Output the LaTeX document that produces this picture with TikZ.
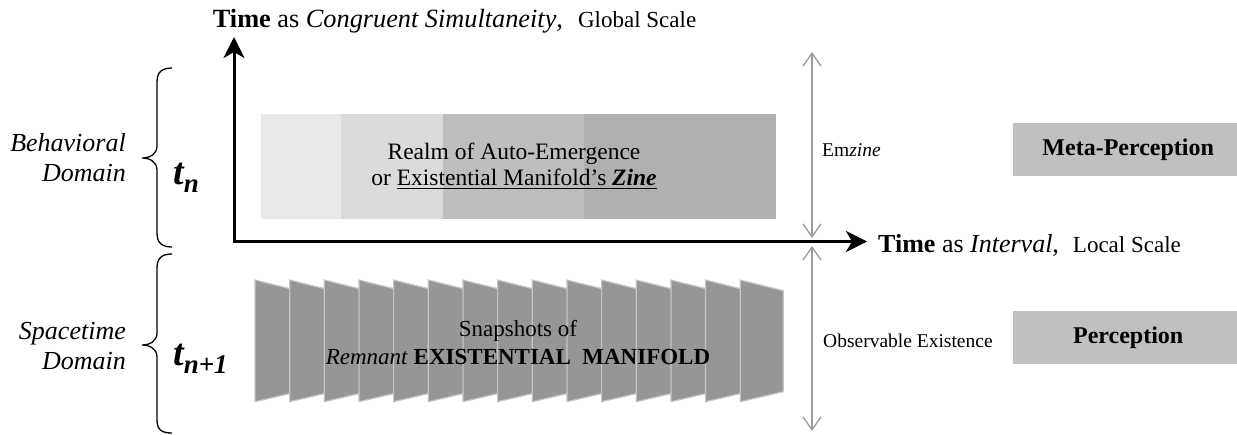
\documentclass[tikz,border=0pt]{standalone}
\usepackage{fontspec}
\setmainfont{Liberation Serif}
\usetikzlibrary{arrows.meta}

% font size helper: size and baseline skip in pt
\newcommand\setsz[2]{\fontsize{#1}{#2}\selectfont}
% thick underline
\newcommand\ulx[1]{\setbox0\hbox{#1}\rlap{\rule[-3.2pt]{\wd0}{1.3pt}}\box0}

\definecolor{shadeA}{HTML}{E9E9E9}
\definecolor{shadeB}{HTML}{DBDBDB}
\definecolor{shadeC}{HTML}{BEBEBE}
\definecolor{shadeD}{HTML}{B0B0B0}
\definecolor{boxgray}{HTML}{C0C0C0}
\definecolor{panelfill}{HTML}{969696}
\definecolor{panelline}{HTML}{C6C6C6}
\definecolor{spangray}{HTML}{9C9C9C}

\tikzset{
  axis/.style={line width=3pt, line join=miter,
    {Stealth[length=21pt,width=21pt,inset=6pt]}-{Stealth[length=21pt,width=21pt,inset=6pt]}},
  span/.style={spangray, line width=1.3pt,
    {Straight Barb[length=13pt,width=18pt]}-{Straight Barb[length=13pt,width=18pt]}},
  panel/.style={fill=panelfill, draw=panelline, line width=1.2pt, line join=miter},
  brace/.style={line width=1.3pt},
  sidelabel/.style={align=right, anchor=east, inner sep=0pt, font=\itshape\setsz{26}{30}},
  label/.style={anchor=base west, inner sep=0pt},
  tagbox/.style={fill=boxgray, anchor=north west, minimum width=224pt, minimum height=53pt,
    inner sep=0pt, font=\bfseries\setsz{24}{26}},
}

\begin{document}
\begin{tikzpicture}[x=1pt,y=-1pt]
\useasboundingbox (0,0) rectangle (1237,434);

% ---- Behavioral domain: graded realm of auto-emergence
\fill[shadeA] (261,114) rectangle (341,219);
\fill[shadeB] (341,114) rectangle (443,219);
\fill[shadeC] (443,114) rectangle (584,219);
\fill[shadeD] (584,114) rectangle (776,219);
\node[align=center, font=\setsz{23.5}{26}] (realm) at (514,166)
  {Realm of Auto-Emergence\\ or \ulx{Existential Manifold’s \textbf{\textit{Zine}}}};

% ---- Spacetime domain: row of overlapping snapshot panels
\foreach \i in {0,...,14}{
  \pgfmathsetmacro\xl{255+34.66*\i}
  \draw[panel] (\xl,280) -- ++(43,10.7) -- ++(0,101) -- ++(-43,10) -- cycle;
}
\node[align=center, font=\setsz{23}{28}] (snap) at (518,343)
  {Snapshots of\\\textit{Remnant} \textbf{EXISTENTIAL\ \ MANIFOLD}};

% ---- time axes
\coordinate (O) at (234,241.5);
\coordinate (ytip) at (234,37);
\coordinate (xtip) at (867,241.5);
\draw[axis] (ytip) -- (O) -- (xtip);

\node[label] (ylab) at (212.7,27)
  {\setsz{26.3}{30}\textbf{Time} as \textit{Congruent Simultaneity},\hspace{15pt}\setsz{23}{26}Global Scale};
\node[label] (xlab) at (878,252)
  {\setsz{26}{30}\textbf{Time} as \textit{Interval},\hspace{14pt}\setsz{23}{26}Local Scale};

% ---- spans at the right
\coordinate (e1) at (812,52);
\coordinate (e2) at (812,238);
\coordinate (o1) at (812,246);
\coordinate (o2) at (812,431);
\draw[span] (e1) -- (e2);
\draw[span] (o1) -- (o2);
\node[label, font=\setsz{19.5}{22}] (emzine) at (822,156) {Em\textit{zine}};
\node[label, font=\setsz{19.5}{22}] (obs) at (823,347) {Observable Existence};

\node[tagbox] (meta) at (1013,123) {\hspace*{6pt}Meta-Perception};
\node[tagbox] (perc) at (1013,311) {\hspace*{6pt}Perception};

% ---- domain braces and labels
\draw[brace] (172,68) .. controls (162,68) and (157,72) .. (157,82) -- (157,146)
  .. controls (157,154) and (150,158) .. (142,158)
  .. controls (150,158) and (157,162) .. (157,170) -- (157,233)
  .. controls (157,243) and (162,247) .. (172,247);
\draw[brace] (172,254) .. controls (162,254) and (157,258) .. (157,268) -- (157,333)
  .. controls (157,341) and (150,345) .. (142,345)
  .. controls (150,345) and (157,349) .. (157,357) -- (157,420)
  .. controls (157,430) and (162,433) .. (172,433);

\node[sidelabel] (behav) at (126,158) {Behavioral\\Domain};
\node[sidelabel] (space) at (126,346) {Spacetime\\Domain};

\node[label] (tn) at (173,184)
  {\setsz{38}{40}\bfseries\itshape t\raisebox{-8pt}{\setsz{27}{28}n}};
\node[label] (tn1) at (173,365)
  {\setsz{38}{40}\bfseries\itshape t\raisebox{-8pt}{\setsz{27}{28}n+1}};
\end{tikzpicture}
\end{document}
